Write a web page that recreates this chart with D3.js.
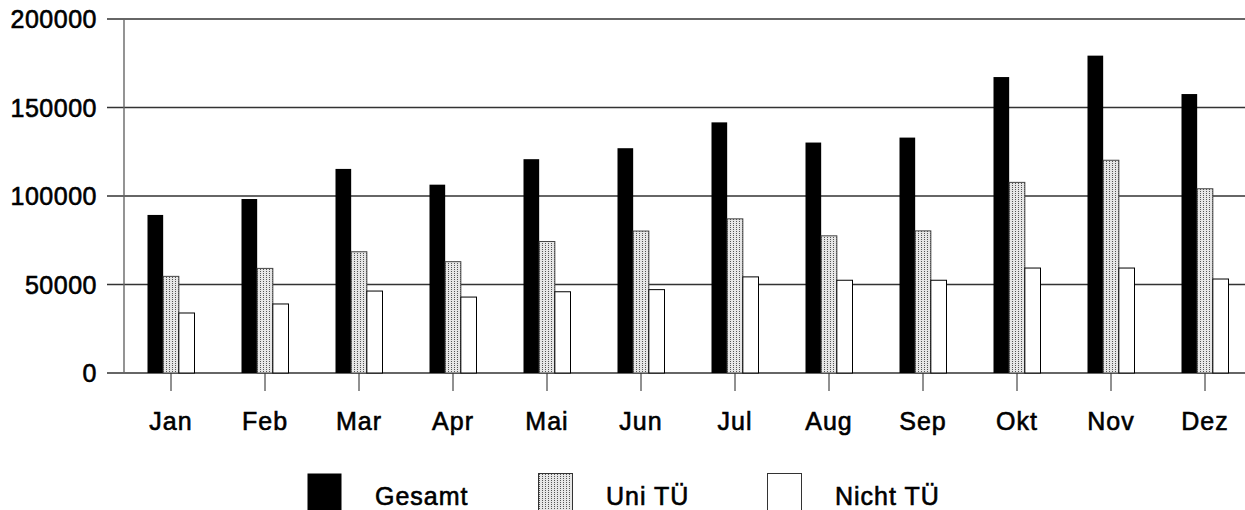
<!DOCTYPE html>
<html>
<head>
<meta charset="utf-8">
<script src="https://cdn.jsdelivr.net/npm/d3@7"></script>
<style>
  body { margin: 0; background: #fff; }
  svg text { font-family: 'Liberation Sans', Arial, sans-serif; fill: #000; stroke: #000; stroke-width: 0.6px; }
</style>
</head>
<body>
<div id="chart-area"></div>
<script>
// Data
const months = ['Jan', 'Feb', 'Mar', 'Apr', 'Mai', 'Jun', 'Jul', 'Aug', 'Sep', 'Okt', 'Nov', 'Dez'];
const seriesNames = ['Gesamt', 'Uni TÜ', 'Nicht TÜ'];
const gesamt = [89300, 98300, 115300, 106400, 120800, 127000, 141600, 130200, 133000, 167200, 179300, 157600];
const uniTue = [54600, 59100, 68500, 62900, 74300, 80200, 87100, 77500, 80300, 107700, 120200, 104100];
const nichtTue = [33900, 39000, 46300, 42900, 45900, 47100, 54300, 52400, 52400, 59300, 59300, 53100];
const yTicks = [0, 50000, 100000, 150000, 200000];

const width = 1245;
const height = 510;
const margin = { top: 19, left: 124, bottom: 137 };
const step = 94;

const svg = d3.select('#chart-area')
  .append('svg')
  .attr('width', width)
  .attr('height', height);

// dotted fill for "Uni TÜ"
const defs = svg.append('defs');
const pat = defs.append('pattern')
  .attr('id', 'dots')
  .attr('patternUnits', 'userSpaceOnUse')
  .attr('width', 3)
  .attr('height', 2);
pat.append('rect').attr('width', 3).attr('height', 2).attr('fill', '#e6e6e6');
pat.append('rect').attr('x', 1).attr('y', 1).attr('width', 1).attr('height', 1).attr('fill', '#555');

const fills = ['#000', 'url(#dots)', '#fff'];
const strokes = ['none', '#444', '#000'];

// Scales
const yScale = d3.scaleLinear()
  .domain([0, 200000])
  .range([height - margin.bottom, margin.top]);

const xScale = d3.scaleBand()
  .domain(months)
  .range([margin.left, margin.left + months.length * step])
  .paddingInner(0)
  .paddingOuter(0);

const xInner = d3.scaleBand()
  .domain(seriesNames)
  .range([-23.5, 23.5]);

// Grid lines
svg.append('g')
  .selectAll('line')
  .data(yTicks)
  .enter()
  .append('line')
  .attr('x1', 107)
  .attr('x2', width)
  .attr('y1', (d) => yScale(d))
  .attr('y2', (d) => yScale(d))
  .attr('stroke', '#333')
  .attr('stroke-width', 1.4);

// Y axis line
svg.append('line')
  .attr('x1', margin.left).attr('x2', margin.left)
  .attr('y1', yScale(200000)).attr('y2', yScale(0))
  .attr('stroke', '#666')
  .attr('stroke-width', 1.4);

// Y labels
svg.append('g')
  .selectAll('text')
  .data(yTicks)
  .enter()
  .append('text')
  .attr('x', 97)
  .attr('y', (d) => yScale(d) + 9)
  .attr('text-anchor', 'end')
  .style('font-size', '25px')
  .style('letter-spacing', '0.5px')
  .text((d) => d);

// X ticks
svg.append('g')
  .selectAll('line')
  .data(months)
  .enter()
  .append('line')
  .attr('x1', (d) => xScale(d) + xScale.bandwidth() / 2)
  .attr('x2', (d) => xScale(d) + xScale.bandwidth() / 2)
  .attr('y1', yScale(0))
  .attr('y2', yScale(0) + 18)
  .attr('stroke', '#222')
  .attr('stroke-width', 1);

// X labels
svg.append('g')
  .selectAll('text')
  .data(months)
  .enter()
  .append('text')
  .attr('x', (d) => xScale(d) + xScale.bandwidth() / 2)
  .attr('y', 430)
  .attr('text-anchor', 'middle')
  .style('font-size', '25px')
  .style('letter-spacing', '1px')
  .text((d) => d);

// Bars
const values = [gesamt, uniTue, nichtTue];
const groups = svg.append('g')
  .selectAll('g')
  .data(months)
  .enter()
  .append('g')
  .attr('transform', (d) => `translate(${xScale(d) + xScale.bandwidth() / 2}, 0)`);

groups.selectAll('rect')
  .data((d, i) => seriesNames.map((s, j) => ({ s, j, v: values[j][i] })))
  .enter()
  .append('rect')
  .attr('x', (d) => xInner(d.s))
  .attr('width', xInner.bandwidth())
  .attr('y', (d) => yScale(d.v))
  .attr('height', (d) => yScale(0) - yScale(d.v))
  .attr('fill', (d) => fills[d.j])
  .attr('stroke', (d) => strokes[d.j])
  .attr('stroke-width', 1);

// Legend
const legendX = [307, 538, 767];
const legend = svg.append('g')
  .selectAll('g')
  .data(seriesNames)
  .enter()
  .append('g')
  .attr('transform', (d, i) => `translate(${legendX[i]}, 473)`);

legend.append('rect')
  .attr('x', 0.5)
  .attr('y', 0.5)
  .attr('width', 34)
  .attr('height', 40)
  .attr('fill', (d, i) => fills[i])
  .attr('stroke', (d, i) => (i === 0 ? 'none' : '#333'))
  .attr('stroke-width', 1);

legend.append('text')
  .attr('x', 68)
  .attr('y', 32)
  .style('font-size', '25px')
  .style('letter-spacing', '1px')
  .text((d) => d);
</script>
</body>
</html>
